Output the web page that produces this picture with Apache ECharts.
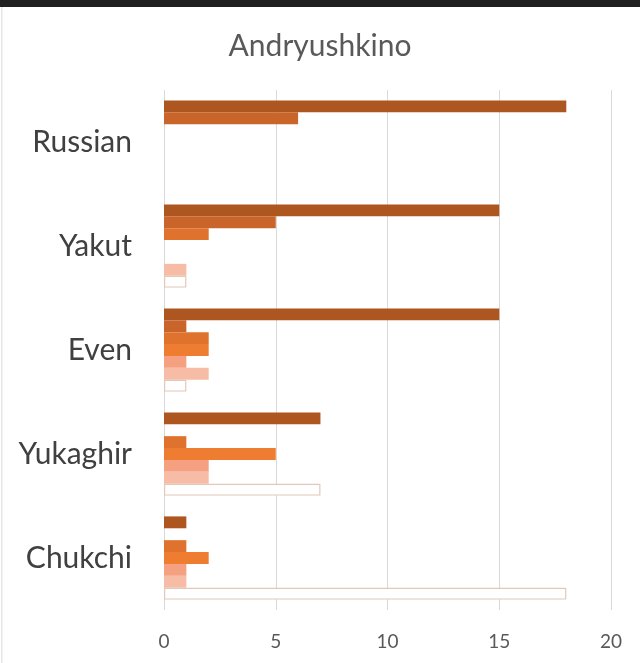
<!DOCTYPE html>
<html>
<head>
<meta charset="utf-8">
<title>Andryushkino</title>
<script src="https://cdn.jsdelivr.net/npm/echarts@6/dist/echarts.min.js"></script>
<style>
  html, body { margin: 0; padding: 0; background: #ffffff; }
  #chart { width: 640px; height: 663px; }
</style>
</head>
<body>
<div id="chart"></div>
<script>
// Languages (rows, top to bottom)
const categories = ['Russian', 'Yakut', 'Even', 'Yukaghir', 'Chukchi'];

// Seven response groups, drawn top to bottom inside each row
const seriesNames = ['Group 1', 'Group 2', 'Group 3', 'Group 4', 'Group 5', 'Group 6', 'Group 7'];
const group1 = [18, 15, 15, 7, 1];
const group2 = [6, 5, 1, 0, 0];
const group3 = [0, 2, 2, 1, 1];
const group4 = [0, 0, 2, 5, 2];
const group5 = [0, 0, 1, 2, 1];
const group6 = [0, 1, 2, 2, 1];
const group7 = [0, 1, 1, 7, 18];
const seriesValues = [group1, group2, group3, group4, group5, group6, group7];

const xTicks = [0, 5, 10, 15, 20];

const fills = ['#AE5620', '#C9642A', '#DF722C', '#EE7D31', '#F4A081', '#F6BCA5', '#FFFFFF'];
const borders = [null, null, null, null, null, null, '#E2C8B8'];

const chart = echarts.init(document.getElementById('chart'), null, { renderer: 'canvas' });

const series = seriesValues.map((vals, i) => ({
  name: seriesNames[i],
  type: 'bar',
  // empty cells get no outline so nothing shows at zero
  data: vals.map(v => (v === 0 ? { value: v, itemStyle: { borderWidth: 0 } } : v)),
  barGap: '0%',
  barCategoryGap: '20%',
  itemStyle: {
    color: fills[i],
    borderColor: borders[i] || fills[i],
    borderWidth: borders[i] ? 1.2 : 0
  },
  emphasis: { disabled: true }
}));

chart.setOption({
  animation: false,
  backgroundColor: '#ffffff',
  textStyle: { fontFamily: 'Lato' },
  title: {
    text: 'Andryushkino',
    left: 'center',
    top: 26,
    textStyle: { fontFamily: 'Lato', fontSize: 30, fontWeight: 'normal', color: '#595959' }
  },
  grid: { left: 164, right: 29, top: 90, bottom: 53, containLabel: false },
  xAxis: {
    type: 'value',
    min: xTicks[0],
    max: xTicks[xTicks.length - 1],
    interval: xTicks[1] - xTicks[0],
    axisLine: { show: false },
    axisTick: { show: false },
    axisLabel: { fontFamily: 'Lato', fontSize: 19, color: '#595959', margin: 22 },
    splitLine: { show: true, lineStyle: { color: '#D9D9D9', width: 1 } }
  },
  yAxis: {
    type: 'category',
    inverse: true,
    data: categories,
    axisLine: { show: false },
    axisTick: { show: false },
    axisLabel: { fontFamily: 'Lato', fontSize: 30, color: '#404040', margin: 32 }
  },
  graphic: [
    { type: 'rect', left: 0, top: 0, shape: { width: 640, height: 7 }, style: { fill: '#202020' }, silent: true },
    { type: 'rect', left: 1, top: 7, shape: { width: 1.5, height: 656 }, style: { fill: '#E6E6E6' }, silent: true }
  ],
  series: series
});
</script>
</body>
</html>
